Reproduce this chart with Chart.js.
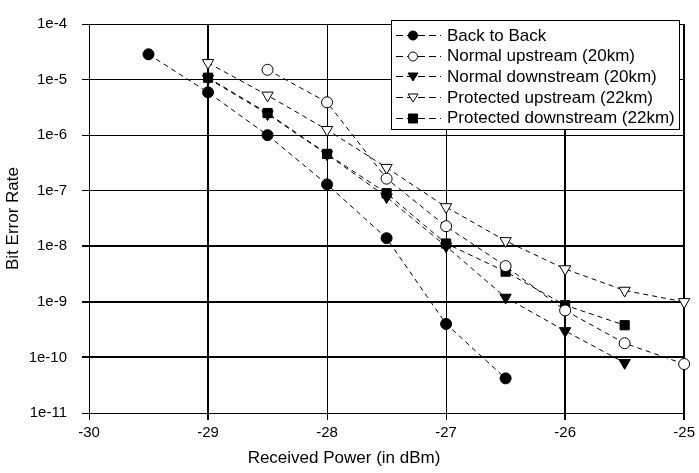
<!DOCTYPE html>
<html>
<head>
<meta charset="utf-8">
<script src="https://cdn.jsdelivr.net/npm/chart.js@4.4.1/dist/chart.umd.min.js"></script>
<style>
html,body{margin:0;padding:0;background:#fff;}
#wrap{width:699px;height:473px;position:relative;}
</style>
</head>
<body>
<div id="wrap"><canvas id="c" width="699" height="473"></canvas></div>
<script>
const seriesNames = [
  "Back to Back",
  "Normal upstream (20km)",
  "Normal downstream (20km)",
  "Protected upstream (22km)",
  "Protected downstream (22km)"
];
const yTickValues = [1e-4, 1e-5, 1e-6, 1e-7, 1e-8, 1e-9, 1e-10, 1e-11];
const xTickValues = [-30, -29, -28, -27, -26, -25];

const backToBackX = [-29.5, -29, -28.5, -28, -27.5, -27, -26.5];
const backToBackY = [2.85e-5, 5.9e-6, 1.0e-6, 1.3e-7, 1.4e-8, 4.0e-10, 4.2e-11];

const normalUpX = [-28.5, -28, -27.5, -27, -26.5, -26, -25.5, -25];
const normalUpY = [1.5e-5, 3.9e-6, 1.65e-7, 2.3e-8, 4.4e-9, 7.0e-10, 1.8e-10, 7.6e-11];

const normalDownX = [-29, -28.5, -28, -27.5, -27, -26.5, -26, -25.5];
const normalDownY = [1.05e-5, 2.4e-6, 4.5e-7, 7.7e-8, 1.0e-8, 1.2e-9, 3.0e-10, 8.0e-11];

const protUpX = [-29, -28.5, -28, -27.5, -27, -26.5, -26, -25.5, -25];
const protUpY = [2.0e-5, 5.2e-6, 1.25e-6, 2.6e-7, 5.1e-8, 1.25e-8, 3.9e-9, 1.6e-9, 1.0e-9];

const protDownX = [-29, -28.5, -28, -27.5, -27, -26.5, -26, -25.5];
const protDownY = [1.08e-5, 2.5e-6, 4.6e-7, 9.0e-8, 1.12e-8, 3.5e-9, 8.7e-10, 3.8e-10];

function pts(xs, ys){ return xs.map((x,i)=>({x:x, y:ys[i]})); }

const FONT = "'Liberation Sans', Arial, sans-serif";
const dash = [5,4];

const styles = [
  {pointStyle:'circle', fill:'#000', rot:0, r:5.5},
  {pointStyle:'circle', fill:'#fff', rot:0, r:5.5},
  {pointStyle:'triangle', fill:'#000', rot:180, r:6.5},
  {pointStyle:'triangle', fill:'#fff', rot:180, r:6.5},
  {pointStyle:'rect', fill:'#000', rot:0, r:6.5}
];
const dataArr = [
  pts(backToBackX, backToBackY),
  pts(normalUpX, normalUpY),
  pts(normalDownX, normalDownY),
  pts(protUpX, protUpY),
  pts(protDownX, protDownY)
];

const datasets = seriesNames.map((n,i)=>({
  label:n,
  data:dataArr[i],
  borderColor:'#000',
  borderWidth:1,
  borderDash:dash,
  backgroundColor:styles[i].fill,
  pointBackgroundColor:styles[i].fill,
  pointBorderColor:'#000',
  pointBorderWidth:1,
  pointStyle:styles[i].pointStyle,
  pointRotation:styles[i].rot,
  pointRadius:styles[i].r,
  tension:0,
  showLine:true,
  clip:false
}));

const legendPlugin = {
  id:'customLegend',
  afterDraw(chart){
    const ctx = chart.ctx;
    const L = 391, T = 20, R = 679, B = 129;
    ctx.save();
    ctx.fillStyle = '#fff';
    ctx.fillRect(L, T, R-L, B-T);
    ctx.strokeStyle = '#000';
    ctx.lineWidth = 1;
    ctx.strokeRect(L+0.5, T+0.5, R-L, B-T);
    ctx.font = '17px ' + FONT;
    ctx.textBaseline = 'middle';
    seriesNames.forEach((n,i)=>{
      const y = T + 15 + i*20.7;
      ctx.strokeStyle = '#000';
      ctx.lineWidth = 1;
      ctx.setLineDash([7,4]);
      ctx.beginPath();
      ctx.moveTo(396, Math.round(y)+0.5);
      ctx.lineTo(441, Math.round(y)+0.5);
      ctx.stroke();
      ctx.setLineDash([]);
      const cx = 413, cy = Math.round(y)+0.5;
      const st = styles[i];
      ctx.fillStyle = st.fill;
      ctx.beginPath();
      if (st.pointStyle === 'circle') {
        ctx.arc(cx, cy, 4.5, 0, Math.PI*2);
      } else if (st.pointStyle === 'triangle') {
        ctx.moveTo(cx-5, cy-3.5);
        ctx.lineTo(cx+5, cy-3.5);
        ctx.lineTo(cx, cy+4.5);
        ctx.closePath();
      } else {
        ctx.rect(cx-4.5, cy-4.5, 9, 9);
      }
      ctx.fill();
      ctx.stroke();
      ctx.fillStyle = '#000';
      ctx.fillText(n, 447, y+1);
    });
    ctx.restore();
  }
};

const thickX = [-29, -26, -25];
const thickY = [-8, -9, -10];

new Chart(document.getElementById('c'), {
  type:'scatter',
  data:{datasets},
  plugins:[legendPlugin],
  options:{
    responsive:false,
    animation:false,
    devicePixelRatio:1,
    layout:{padding:{top:15, right:11, left:0, bottom:0}},
    plugins:{
      legend:{display:false},
      tooltip:{enabled:false},
      title:{display:true, position:'bottom', text:'Received Power (in dBm)', color:'#000',
        font:{family:FONT, size:17, weight:'normal'}, padding:{top:0, bottom:4}}
    },
    scales:{
      x:{
        type:'linear',
        min:-30, max:-25,
        afterBuildTicks(s){ s.ticks = xTickValues.map(v=>({value:v})); },
        afterFit(s){ s.height = 35.6; },
        grid:{color:'#000', tickLength:7, drawTicks:true,
          lineWidth:(c)=> (c.tick && thickX.includes(c.tick.value)) ? 2 : 1},
        border:{color:'#000', width:1},
        ticks:{color:'#000', font:{family:FONT, size:15}, padding:4, maxRotation:0,
          callback:(v)=>String(v)},
        title:{display:false}
      },
      y:{
        type:'logarithmic',
        min:1e-11, max:1e-4,
        afterBuildTicks(s){ s.ticks = yTickValues.map(v=>({value:v})); },
        afterFit(s){ s.width = 89; },
        grid:{color:'#000', tickLength:7, drawTicks:true,
          lineWidth:(c)=> (c.tick && thickY.includes(Math.round(Math.log10(c.tick.value)))) ? 2 : 1},
        border:{color:'#000', width:1},
        ticks:{color:'#000', font:{family:FONT, size:15}, padding:15,
          callback:(v)=>'1e' + Math.round(Math.log10(v))},
        title:{display:true, text:'Bit Error Rate', color:'#000',
          font:{family:FONT, size:17}, padding:{top:3, bottom:0}}
      }
    }
  }
});
</script>
</body>
</html>
